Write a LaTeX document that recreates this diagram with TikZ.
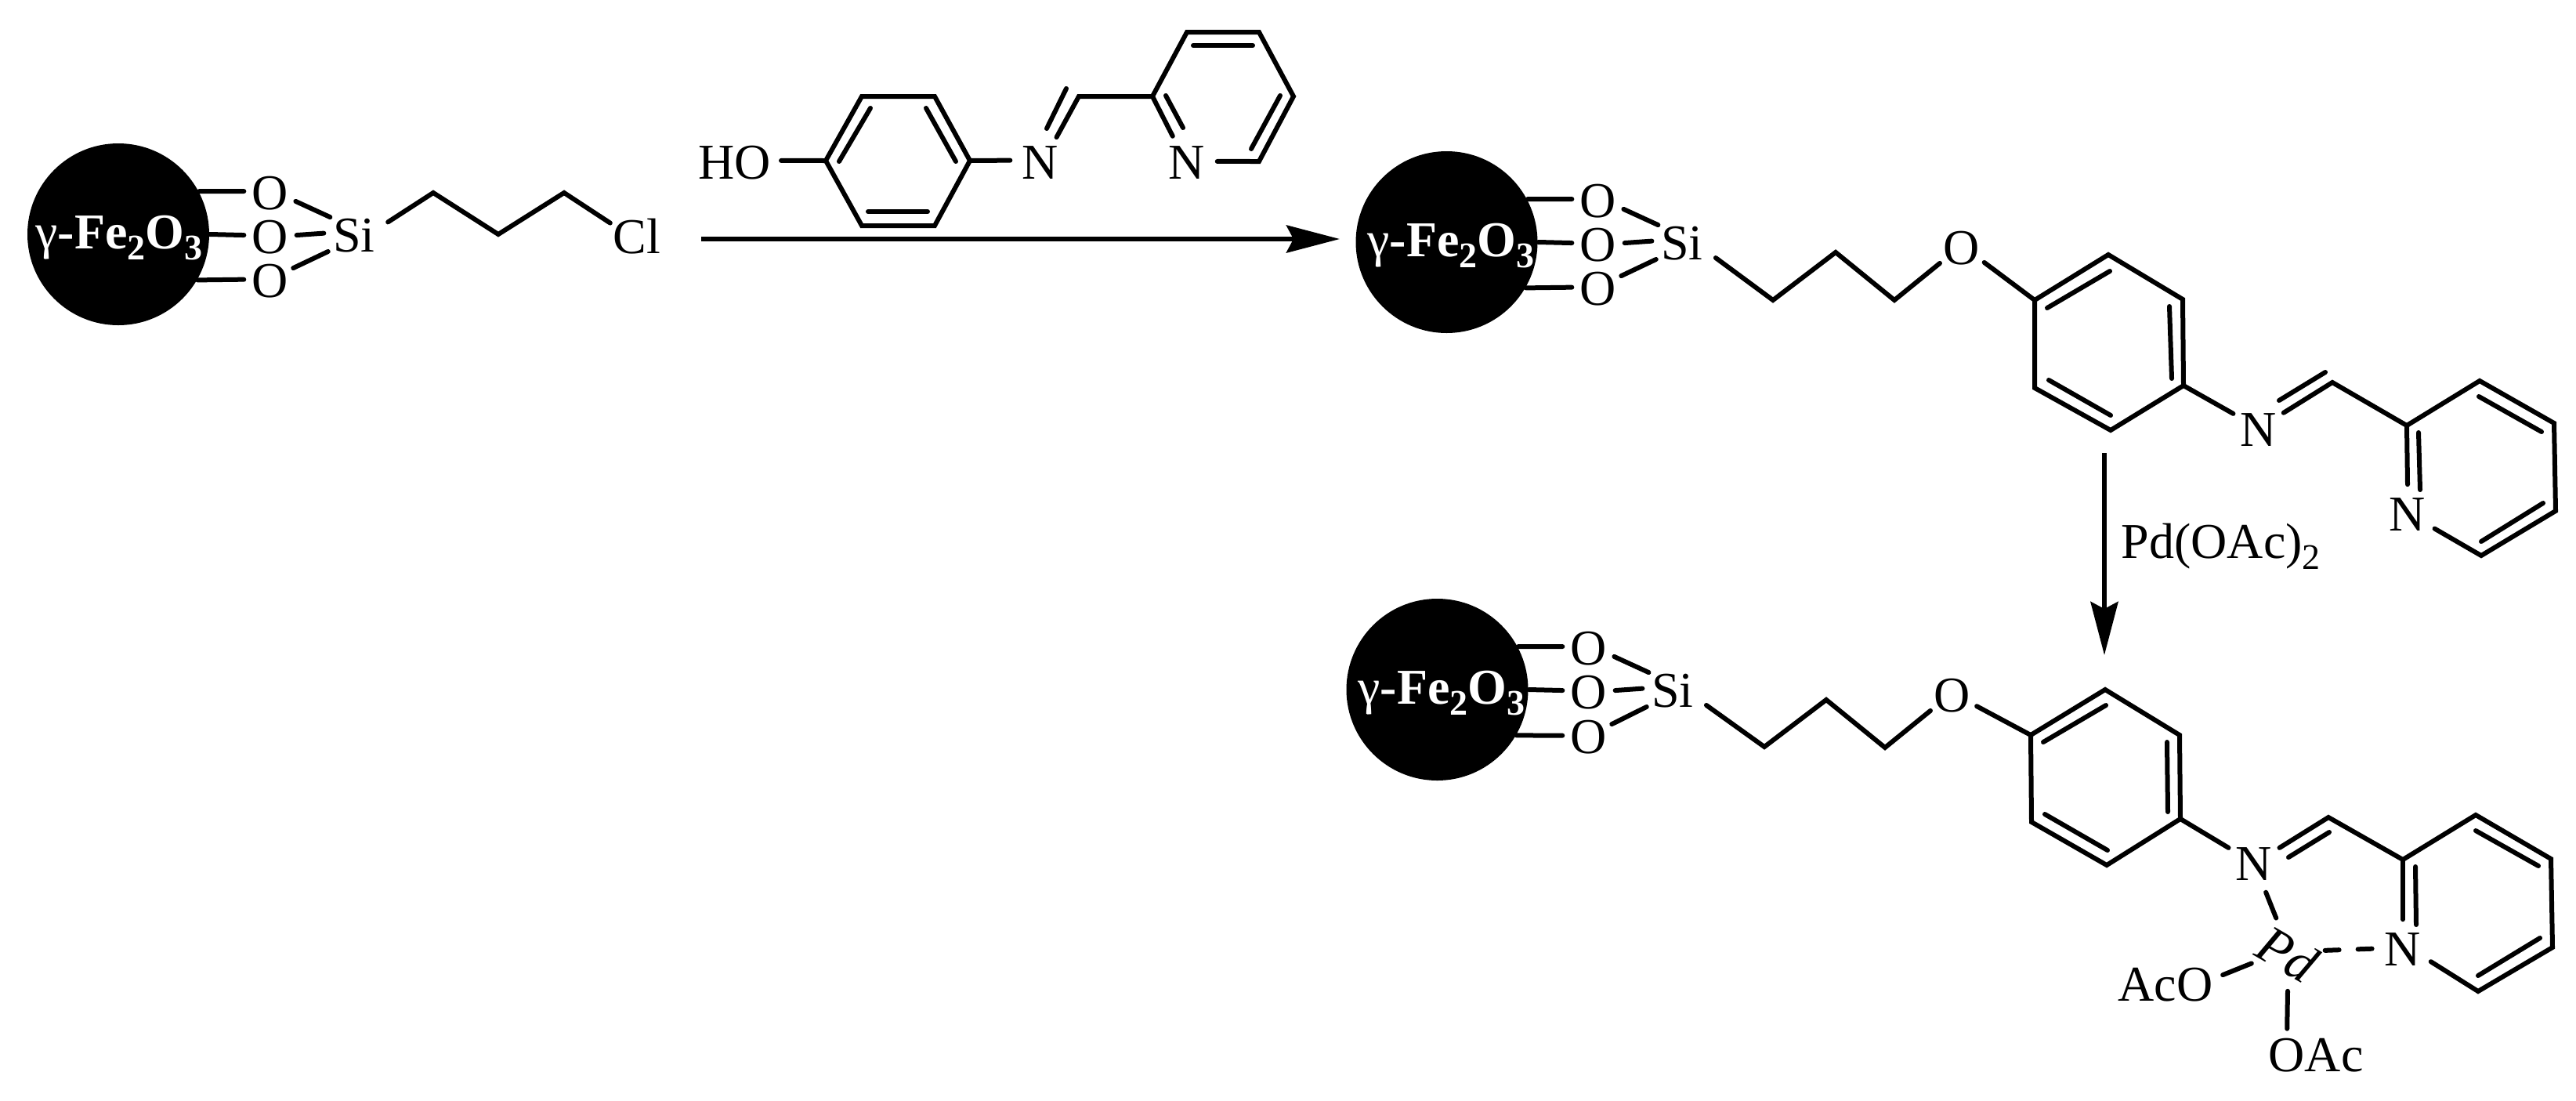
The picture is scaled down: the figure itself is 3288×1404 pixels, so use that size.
\documentclass[tikz,border=0pt]{standalone}
\usepackage{fontspec}
\setmainfont{Liberation Serif}
\usepackage{tikz}
\usetikzlibrary{arrows.meta}
\newcommand{\subnum}[2][11.5]{\raisebox{-3.7pt}{\fontsize{#1}{12}\selectfont #2}}
\tikzset{
  bond/.style={line width=1.5pt,line cap=round,line join=miter},
  rxnarrow/.style={line width=1.5pt,-{Stealth[length=17pt,width=8.75pt,inset=2.25pt]}},
  atom/.style={circle,inner sep=0pt,minimum size=16.5pt},
  wideatom/.style={circle,inner sep=0pt,minimum size=19pt},
  group/.style={inner xsep=3pt,inner ysep=3pt},
  ball/.style={circle,fill=black,inner sep=0pt,minimum size=58pt},
  balltext/.style={anchor=base,inner sep=0pt,text=white,font=\fontsize{16}{19}\selectfont\bfseries}
}
\begin{document}
\begin{tikzpicture}[x=0.25pt,y=-0.25pt,every node/.append style={font=\fontsize{16}{19}\selectfont}]
  \useasboundingbox (0,0) rectangle (3288,1404);
  % starting material
  \node[ball] (ballA) at (151,299) {};
  \node[balltext] (feA) at (152,317) {{\mdseries γ}-Fe\subnum{2}O\subnum{3}};
  \node[atom] (oA1) at (345,247) {O};
  \node[atom] (oA2) at (345,303) {O};
  \node[atom] (oA3) at (345,359) {O};
  \node[wideatom] (siA) at (452,301) {Si};
  \node[atom] (clA) at (813,302) {Cl};
  \foreach \n/\x/\y in {aL1/553/246,aL2/636/299,aL3/720/246}
    \coordinate (\n) at (\x,\y);
  \draw[bond] (ballA.28) -- (oA1.175);
  \draw[bond] (ballA.east) -- (oA2.175);
  \draw[bond] (ballA.-30) -- (oA3.176);
  \draw[bond] (oA1.-17) -- (siA.142);
  \draw[bond] (oA2.5) -- (siA.175);
  \draw[bond] (oA3.30) -- (siA.211);
  \draw[bond,shorten <=2pt] (siA.20) -- (aL1) -- (aL2) -- (aL3) -- (clA.153);
  % ligand over the first arrow
  \node[group] (hoA) at (938,208) {HO};
  \node[wideatom] (nA1) at (1328,208) {N};
  \node[wideatom] (nA2) at (1515,208) {N};
  \foreach \n/\x/\y in {aR1/1054/205,aR2/1100/123,aR3/1193/123,aR4/1238/205,aR5/1193/288,aR6/1100/288,
    aC/1377/123,aP1/1471/123,aP2/1515/41,aP3/1607/41,aP4/1651/123,aP5/1607/206}
    \coordinate (\n) at (\x,\y);
  \draw[bond] (aR1) -- (aR2) -- (aR3) -- (aR4) -- (aR5) -- (aR6) -- cycle;
  \draw[bond] (hoA.3) -- (aR1);
  \draw[bond] (aR4) -- (nA1.175);
  \draw[bond] (nA1.58) -- (aC) -- (aP1) -- (aP2) -- (aP3) -- (aP4) -- (aP5) -- (nA2.3);
  \draw[bond] (aP1) -- (nA2.118);
  \foreach \n/\x/\y/\u/\v in {aD1/1071/206/1111/138,aD2/1220/206/1182/138,aD3/1108/270/1184/270,aD4/1336/164/1361/113,
    aD5/1488/122/1510/163,aD6/1523/58/1599/58,aD7/1634/122/1597/190}
    {\coordinate (\n s) at (\x,\y); \coordinate (\n e) at (\u,\v); \draw[bond] (\n s) -- (\n e);}
  \coordinate (arrowAs) at (895,305);
  \coordinate (arrowAe) at (1710,305);
  \draw[rxnarrow] (arrowAs) -- (arrowAe);
  % supported ligand
  \node[ball] (ballB) at (1846.5,309) {};
  \node[balltext] (feB) at (1852,327) {{\mdseries γ}-Fe\subnum{2}O\subnum{3}};
  \node[atom] (oB1) at (2040,257) {O};
  \node[atom] (oB2) at (2040,313) {O};
  \node[atom] (oB3) at (2040,369) {O};
  \node[wideatom] (siB) at (2147,311) {Si};
  \node[atom] (oB4) at (2504,317) {O};
  \node[wideatom] (nB1) at (2883,549) {N};
  \node[wideatom] (nB2) at (3073,657) {N};
  \foreach \n/\x/\y in {bL1/2263/383,bL2/2343/322,bL3/2418/383,
    bR1/2597/383,bR2/2691/325,bR3/2786/382,bR4/2787/492,bR5/2694/549,bR6/2597/495,
    bC/2977/488,bP1/3072/543,bP2/3165/486,bP3/3260/540,bP4/3262/652,bP5/3167/709}
    \coordinate (\n) at (\x,\y);
  \draw[bond] (ballB.28) -- (oB1.175);
  \draw[bond] (ballB.east) -- (oB2.175);
  \draw[bond] (ballB.-30) -- (oB3.176);
  \draw[bond] (oB1.-17) -- (siB.142);
  \draw[bond] (oB2.5) -- (siB.175);
  \draw[bond] (oB3.30) -- (siB.211);
  \draw[bond,shorten <=2pt] (siB.-20) -- (bL1) -- (bL2) -- (bL3) -- (oB4.214);
  \draw[bond] (oB4.-32) -- (bR1);
  \draw[bond] (bR1) -- (bR2) -- (bR3) -- (bR4) -- (bR5) -- (bR6) -- cycle;
  \draw[bond] (bR4) -- (nB1.147);
  \draw[bond] (nB1.35) -- (bC) -- (bP1) -- (bP2) -- (bP3) -- (bP4) -- (bP5) -- (nB2.-27);
  \draw[bond] (bP1) -- (nB2.90);
  \foreach \n/\x/\y/\u/\v in {bD1/2613/393/2693/346,bD2/2769/391/2772/483,bD3/2615/485/2694/530,bD4/2909/511/2968/475,
    bD5/3087/552/3089/625,bD6/3164/506/3244/551,bD7/3167/691/3246/642}
    {\coordinate (\n s) at (\x,\y); \coordinate (\n e) at (\u,\v); \draw[bond] (\n s) -- (\n e);}
  \coordinate (arrowBs) at (2686,578);
  \coordinate (arrowBe) at (2686,836);
  \draw[rxnarrow] (arrowBs) -- (arrowBe);
  \node[anchor=base west,inner sep=0pt] (reagent) at (2707,712) {Pd(OAc)\subnum{2}};
  % palladium complex
  \node[ball] (ballC) at (1834.5,880) {};
  \node[balltext] (feC) at (1840,898) {{\mdseries γ}-Fe\subnum{2}O\subnum{3}};
  \node[atom] (oC1) at (2028,828) {O};
  \node[atom] (oC2) at (2028,884) {O};
  \node[atom] (oC3) at (2028,941) {O};
  \node[wideatom] (siC) at (2135,882) {Si};
  \node[atom] (oC4) at (2492,888) {O};
  \node[wideatom] (nC1) at (2877,1103) {N};
  \node[wideatom] (nC2) at (3067,1212) {N};
  \node[circle,inner sep=0pt,minimum size=23.5pt,rotate=-30,font=\fontsize{17}{20}\selectfont\itshape] (pd) at (2920,1217) {Pd};
  \node[group] (aco) at (2764,1257) {AcO};
  \node[group] (oac) at (2956,1347) {OAc};
  \foreach \n/\x/\y in {cL1/2252/953,cL2/2331/893,cL3/2406/954,
    cR1/2592/938,cR2/2687/880,cR3/2782/938,cR4/2783/1045,cR5/2689/1104,cR6/2593/1049,
    cC/2972/1043,cP1/3067/1097,cP2/3160/1040,cP3/3256/1096,cP4/3258/1209,cP5/3163/1265}
    \coordinate (\n) at (\x,\y);
  \draw[bond] (ballC.28) -- (oC1.175);
  \draw[bond] (ballC.east) -- (oC2.175);
  \draw[bond] (ballC.-30) -- (oC3.176);
  \draw[bond] (oC1.-17) -- (siC.142);
  \draw[bond] (oC2.5) -- (siC.175);
  \draw[bond] (oC3.30) -- (siC.211);
  \draw[bond,shorten <=2pt] (siC.-20) -- (cL1) -- (cL2) -- (cL3) -- (oC4.214);
  \draw[bond] (oC4.-23) -- (cR1);
  \draw[bond] (cR1) -- (cR2) -- (cR3) -- (cR4) -- (cR5) -- (cR6) -- cycle;
  \draw[bond] (cR4) -- (nC1.147);
  \draw[bond] (nC1.33) -- (cC) -- (cP1) -- (cP2) -- (cP3) -- (cP4) -- (cP5) -- (nC2.-23);
  \draw[bond] (cP1) -- (nC2.90);
  \foreach \n/\x/\y/\u/\v in {cD1/2608/947/2688/900,cD2/2766/947/2767/1036,cD3/2610/1039/2690/1085,cD4/2921/1094/2973/1062,
    cD5/3083/1106/3084/1180,cD6/3160/1060/3240/1105,cD7/3163/1245/3242/1197}
    {\coordinate (\n s) at (\x,\y); \coordinate (\n e) at (\u,\v); \draw[bond] (\n s) -- (\n e);}
  \draw[bond] (nC1.-67) -- (pd.138);
  \draw[bond,dash pattern=on 4.5pt off 6pt] (pd.35) -- (nC2.178);
  \draw[bond] (pd.225) -- (aco.10);
  \draw[bond] (pd.300) -- (oac.137);
\end{tikzpicture}
\end{document}
